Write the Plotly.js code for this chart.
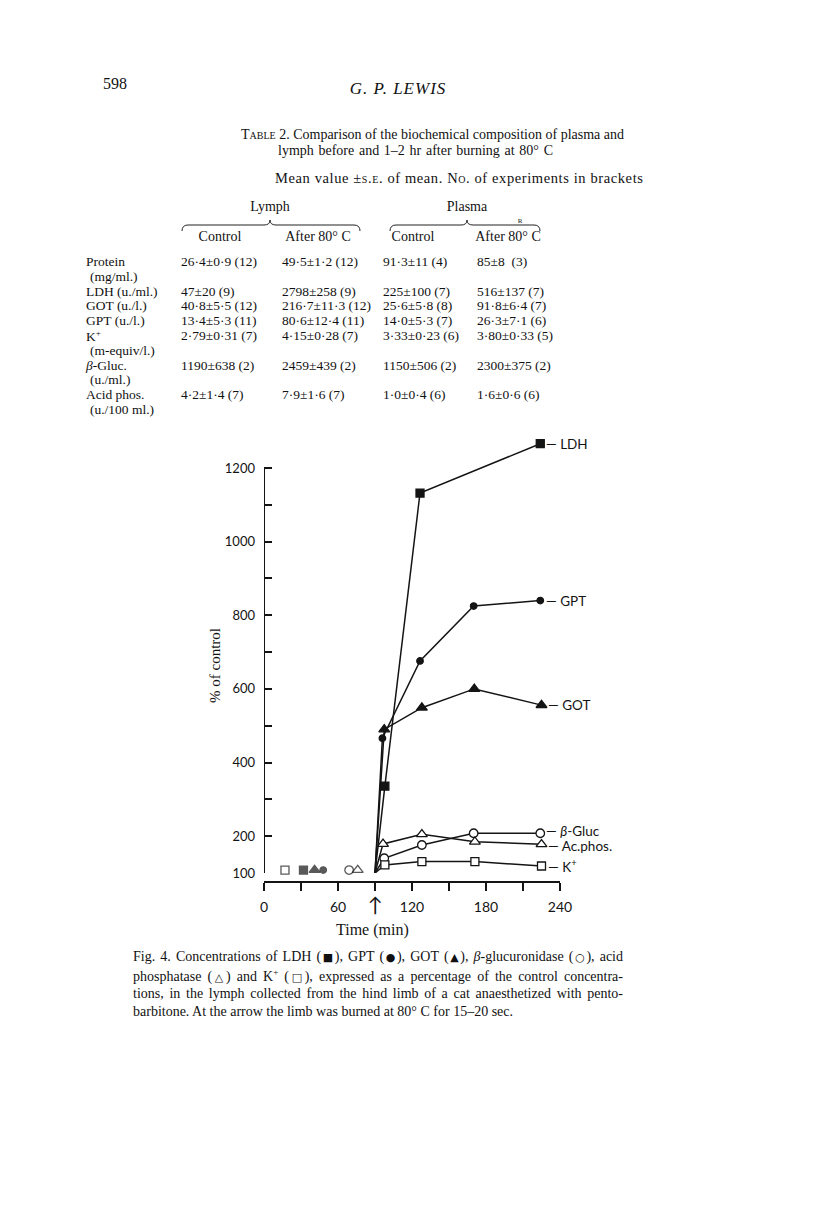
<!DOCTYPE html>
<html>
<head>
<meta charset="utf-8">
<script src="https://cdn.plot.ly/plotly-3.0.1.min.js"></script>
<style>
  body { margin: 0; background: #fff; }
  #page { position: relative; width: 816px; height: 1213px; overflow: hidden;
          font-family: "Liberation Serif", serif; color: #111; }
  #chart { position: absolute; left: 0; top: 0; width: 816px; height: 1213px; }
  .t { position: absolute; white-space: nowrap; line-height: 1; }
  .c { transform: translate(-50%, -50%); }
  .l { transform: translate(0, -50%); }
  .sc { font-variant: small-caps; }
  .j { position: absolute; white-space: nowrap; line-height: 1; transform: translate(0, -50%);
       text-align: justify; text-align-last: justify; }
  .sym { font-family: "DejaVu Sans", sans-serif; font-size: 11px; }
</style>
</head>
<body>
<div id="page">
  <div id="chart"></div>
  <svg width="816" height="1213" style="position:absolute;left:0;top:0;pointer-events:none">
    <path d="M182,231 Q182,225 188,225 L264,225 Q270,225 270,220 Q270,225 276,225 L354,225 Q360,225 360,231"
          fill="none" stroke="#222" stroke-width="1"/>
    <path d="M390,231 Q390,225 396,225 L461,225 Q467,225 467,220 Q467,225 473,225 L534,225 Q540,225 540,231"
          fill="none" stroke="#222" stroke-width="1"/>
  </svg>
</div>
<script>
// table 2 (text)
const tableRows = ['Protein', 'LDH (u./ml.)', 'GOT (u./l.)', 'GPT (u./l.)', 'K<sup style="font-size:9px">+</sup>', '<i>β</i>-Gluc.', 'Acid phos.'];
const tableUnits = ['(mg/ml.)', '', '', '', '(m-equiv/l.)', '(u./ml.)', '(u./100 ml.)'];
const lymphControl = ['26·4±0·9 (12)', '47±20 (9)', '40·8±5·5 (12)', '13·4±5·3 (11)', '2·79±0·31 (7)', '1190±638 (2)', '4·2±1·4 (7)'];
const lymphBurn = ['49·5±1·2 (12)', '2798±258 (9)', '216·7±11·3 (12)', '80·6±12·4 (11)', '4·15±0·28 (7)', '2459±439 (2)', '7·9±1·6 (7)'];
const plasmaControl = ['91·3±11 (4)', '225±100 (7)', '25·6±5·8 (8)', '14·0±5·3 (7)', '3·33±0·23 (6)', '1150±506 (2)', '1·0±0·4 (6)'];
const plasmaBurn = ['85±8&nbsp; (3)', '516±137 (7)', '91·8±6·4 (7)', '26·3±7·1 (6)', '3·80±0·33 (5)', '2300±375 (2)', '1·6±0·6 (6)'];

// fig. 4 data, % of control vs time (min)
const burnTime = 90;
const controlLabels = ['K+', 'LDH', 'GOT', 'GPT', 'β-Gluc', 'Ac.phos.'];
const controlTime = [17, 32, 41, 48, 69, 76];
const controlPct = [108, 108, 108, 108, 108, 108];

const ldhTime = [90, 98, 126.5, 224];
const ldhPct = [100, 336, 1132, 1266];
const gptTime = [90, 96, 126.5, 170, 224];
const gptPct = [100, 466, 676, 825, 840];
const gotTime = [90, 97.5, 128, 170.5, 225];
const gotPct = [100, 490, 549, 600, 556];
const glucTime = [90, 97.5, 128, 170, 224];
const glucPct = [100, 140, 176, 208, 208];
const acpTime = [90, 96.5, 128, 171, 225];
const acpPct = [100, 179, 205, 185, 178];
const kTime = [90, 98, 128, 171, 225];
const kPct = [100, 122, 131, 131, 119];

const page = document.getElementById('page');
function put(html, x, y, cls, style) {
  const d = document.createElement('div');
  d.className = 't ' + cls;
  d.style.left = x + 'px';
  d.style.top = y + 'px';
  if (style) d.style.cssText += style;
  d.innerHTML = html;
  page.appendChild(d);
}
// justified line of given width
function line(html, x, y, w, size, last) {
  const d = document.createElement('div');
  d.className = 'j';
  d.style.left = x + 'px';
  d.style.top = y + 'px';
  d.style.width = w + 'px';
  d.style.fontSize = size + 'px';
  if (last) d.style.textAlignLast = 'left';
  d.innerHTML = html;
  page.appendChild(d);
}

put('598', 103, 84, 'l', 'font-size:16px');
put('G. P. LEWIS', 398, 88, 'c', 'font-size:17px;font-style:italic;letter-spacing:1px');
line('<span class="sc">Table</span> 2. Comparison of the biochemical composition of plasma and', 241, 135, 379, 14);
line('lymph before and 1–2 hr after burning at 80° C', 278, 151, 275, 14);
put('Mean value ±<span class="sc">s.e.</span> of mean. <span class="sc">No</span>. of experiments in brackets',
    275, 178, 'l', 'font-size:14.5px;letter-spacing:0.6px');
put('Lymph', 270, 207, 'c', 'font-size:14px');
put('Plasma', 467, 207, 'c', 'font-size:14px');
put('R', 520, 221, 'c', 'font-size:7px');
put('Control', 220, 237, 'c', 'font-size:14px');
put('After 80° C', 318, 237, 'c', 'font-size:14px');
put('Control', 413, 237, 'c', 'font-size:14px');
put('After 80° C', 508, 237, 'c', 'font-size:14px');

const colX = [181, 282, 383, 477];
const cols = [lymphControl, lymphBurn, plasmaControl, plasmaBurn];
const pitch = 14.8;
let y = 262;
tableRows.forEach((lab, i) => {
  put(lab, 86, y, 'l', 'font-size:13.5px');
  cols.forEach((c, j) => put(c[i], colX[j], y, 'l', 'font-size:13.5px'));
  y += pitch;
  if (tableUnits[i]) {
    put(tableUnits[i], 90, y, 'l', 'font-size:13.5px');
    y += pitch;
  }
});

const captionLines = [
  'Fig. 4. Concentrations of LDH (<span class="sym">■</span>), GPT (<span class="sym">●</span>), GOT (<span class="sym">▲</span>), <i>β</i>-glucuronidase (<span class="sym">○</span>), acid',
  'phosphatase (<span class="sym">△</span>) and K<sup style="font-size:9px">+</sup> (<span class="sym">□</span>), expressed as a percentage of the control concentra-',
  'tions, in the lymph collected from the hind limb of a cat anaesthetized with pento-',
  'barbitone. At the arrow the limb was burned at 80° C for 15–20 sec.'
];
const captionY = [957, 976, 994, 1012];
captionLines.forEach((s, i) => line(s, 133, captionY[i], 490, 14, i === captionLines.length - 1));

// chart, positioned in page pixels
const W = 816, H = 1213;
const px = x => x / W;
const py = v => 1 - v / H;
const ink = '#141414';
const sans = 'Lato, "Open Sans", sans-serif';
const serif = '"Liberation Serif", serif';

const series = [
  {t: ldhTime, v: ldhPct, sym: 'square', size: 8, fill: ink, name: '— LDH', dy: 0},
  {t: gptTime, v: gptPct, sym: 'circle', size: 6.5, fill: ink, name: '— GPT', dy: 0},
  {t: gotTime, v: gotPct, sym: 'triangle-up', size: 9.5, fill: ink, name: '— GOT', dy: 0},
  {t: glucTime, v: glucPct, sym: 'circle', size: 8.5, fill: 'white', name: '— <i>β</i>-Gluc', dy: 2},
  {t: acpTime, v: acpPct, sym: 'triangle-up', size: 9.5, fill: 'white', name: '— Ac.phos.', dy: -2},
  {t: kTime, v: kPct, sym: 'square', size: 8, fill: 'white', name: '— K<sup>+</sup>', dy: 0}
];
const ctrlSym = ['square', 'square', 'triangle-up', 'circle', 'circle', 'triangle-up'];
const ctrlFill = ['white', ink, ink, ink, 'white', 'white'];
const ctrlSize = [8, 8, 9.5, 6.5, 8.5, 9.5];

const data = [];
series.forEach(s => data.push({
  x: s.t, y: s.v, type: 'scatter', mode: 'lines',
  line: {color: ink, width: 1.5}, hoverinfo: 'skip'
}));
series.forEach(s => data.push({
  x: s.t.slice(1), y: s.v.slice(1), type: 'scatter', mode: 'markers', cliponaxis: false,
  marker: {symbol: s.sym, size: s.size, color: s.fill, line: {color: ink, width: 1.3}}
}));
data.push({
  x: controlTime, y: controlPct, text: controlLabels, type: 'scatter', mode: 'markers', cliponaxis: false,
  marker: {symbol: ctrlSym, size: ctrlSize, color: ctrlFill, line: {color: ink, width: 1.3}}
});

const annotations = series.map(s => ({
  x: s.t[s.t.length - 1], y: s.v[s.v.length - 1], text: s.name, showarrow: false,
  xanchor: 'left', yanchor: 'middle', xshift: 4, yshift: s.dy,
  font: {family: sans, size: 13.5, color: ink}
}));
annotations.push({
  xref: 'paper', yref: 'paper', x: px(215), y: py(666), text: '% of control', textangle: -90,
  xanchor: 'center', yanchor: 'middle', showarrow: false,
  font: {family: serif, size: 15, color: ink}
});
annotations.push({
  xref: 'paper', yref: 'paper', x: px(372), y: py(930), text: 'Time (min)',
  xanchor: 'center', yanchor: 'middle', showarrow: false,
  font: {family: serif, size: 16, color: ink}
});

// y range runs past 1200 so the LDH end point fits; the drawn axis stops at 1200
const yMin = 100, yMax = 1300;
const yTop = 873 - (873 - 468) * (yMax - yMin) / 1100;

const layout = {
  width: W, height: H,
  margin: {l: 0, r: 0, t: 0, b: 0},
  paper_bgcolor: 'rgba(0,0,0,0)', plot_bgcolor: 'rgba(0,0,0,0)',
  showlegend: false,
  xaxis: {
    domain: [px(264), px(560)], range: [0, 240], anchor: 'free', position: py(882),
    showline: true, linewidth: 2, linecolor: ink, zeroline: false, showgrid: false,
    ticks: 'outside', ticklen: 8, tickwidth: 2, tickcolor: ink,
    tickvals: [0, 30, 60, 90, 120, 150, 180, 210, 240],
    ticktext: ['0', '', '60', '<span style="font-size:20px">↑</span>', '120', '', '180', '', '240'],
    ticklabelstandoff: 4,
    tickfont: {family: sans, size: 14, color: ink}
  },
  yaxis: {
    domain: [py(873), py(yTop)], range: [yMin, yMax], anchor: 'x',
    showline: false, zeroline: false, showgrid: false,
    ticks: 'inside', ticklen: 8, tickwidth: 2, tickcolor: ink,
    tickvals: [100, 200, 300, 400, 500, 600, 700, 800, 900, 1000, 1100, 1200],
    ticktext: ['100', '200', '', '400', '', '600', '', '800', '', '1000', '', '1200'],
    ticklabelstandoff: 8,
    tickfont: {family: sans, size: 13, color: ink}
  },
  shapes: [{
    type: 'line', xref: 'x', yref: 'y', x0: 0, x1: 0, y0: 100, y1: 1200,
    line: {color: ink, width: 2}
  }],
  annotations: annotations
};

Plotly.newPlot('chart', data, layout, {displayModeBar: false, staticPlot: true});
</script>
</body>
</html>
